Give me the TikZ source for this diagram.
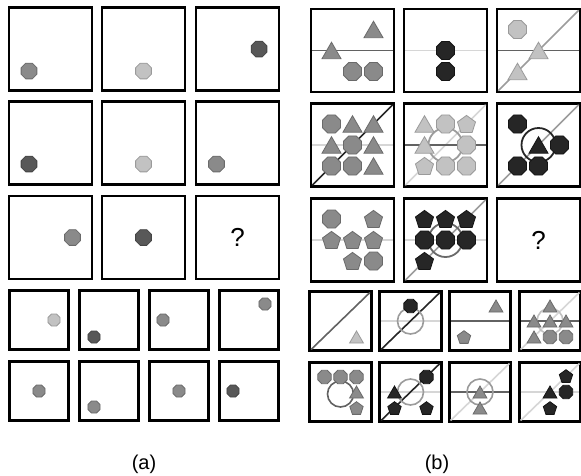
\documentclass[tikz,border=0pt]{standalone}
\usepackage{fontspec}
\setmainfont{Liberation Sans}
\usetikzlibrary{shapes.geometric}

\definecolor{fmid}{HTML}{8A8A8A}
\definecolor{dmid}{HTML}{6A6A6A}
\definecolor{flight}{HTML}{C2C2C2}
\definecolor{dlight}{HTML}{9A9A9A}
\definecolor{fdark}{HTML}{585858}
\definecolor{ddark}{HTML}{444444}
\definecolor{fblack}{HTML}{262626}
\definecolor{dblack}{HTML}{141414}
\definecolor{lnA}{HTML}{D6D6D6}
\definecolor{lnB}{HTML}{9C9C9C}
\definecolor{lnC}{HTML}{626262}
\definecolor{lnD}{HTML}{262626}

\begin{document}
\begin{tikzpicture}[x=1pt,y=-1pt,
		box_style/.style={draw=black,line width=2.6pt,fill=white,inner sep=0pt,minimum size=83pt},
		sbox_style/.style={draw=black,line width=2.6pt,fill=white,inner sep=0pt,minimum width=61.5pt,minimum height=59.5pt},
		abox_style/.style={draw=black,line width=2.6pt,fill=white,inner sep=0pt,minimum size=59.5pt},
		hor_style/.style={line width=1.6pt,shorten >=2.6pt,shorten <=2.6pt},
		diag_style/.style={line width=1.6pt,shorten >=3.7pt,shorten <=3.7pt},
		ring_style/.style={circle,draw,line width=1.8pt,minimum size=34pt,inner sep=0pt},
		sring_style/.style={circle,draw,line width=1.6pt,minimum size=26pt,inner sep=0pt},
		oct_style/.style={regular polygon,regular polygon sides=8,minimum size=19.5pt,inner sep=0pt,line width=0.8pt},
		tri_style/.style={regular polygon,regular polygon sides=3,minimum size=22pt,inner sep=0pt,line width=0.8pt,yshift=-2.7pt},
		pent_style/.style={regular polygon,regular polygon sides=5,minimum size=19pt,inner sep=0pt,line width=0.8pt,yshift=-0.9pt},
		soct_style/.style={oct_style,minimum size=14.5pt},
		stri_style/.style={tri_style,minimum size=16pt,yshift=0.7pt},
		spent_style/.style={pent_style,minimum size=14pt,yshift=0.2pt},
		aoct_style/.style={oct_style,minimum size=17pt},
		asoct_style/.style={oct_style,minimum size=13pt},
		col_mid/.style={fill=fmid,draw=dmid},
		col_light/.style={fill=flight,draw=dlight},
		col_dark/.style={fill=fdark,draw=ddark},
		col_black/.style={fill=fblack,draw=dblack},
		quest_style/.style={font=\fontsize{26}{30}\selectfont}]

		\useasboundingbox (0,0) rectangle (581,475);

		% (a)
		\node[box_style] (a1) at (50.5,49)  {};
		\node[box_style] (a2) at (143.5,49)  {};
		\node[box_style] (a3) at (237.5,49)  {};
		\node[box_style] (a4) at (50.5,143)  {};
		\node[box_style] (a5) at (143.5,143)  {};
		\node[box_style] (a6) at (237.5,143)  {};
		\node[box_style] (a7) at (50.5,237.5)  {};
		\node[box_style] (a8) at (143.5,237.5)  {};
		\node[box_style] (a9) at (237.5,237.5)  {};

		\node[aoct_style,col_mid] (a1s) at (29,71)  {};
		\node[aoct_style,col_light] (a2s) at (143.5,71)  {};
		\node[aoct_style,col_dark] (a3s) at (259,49)  {};
		\node[aoct_style,col_dark] (a4s) at (29,164)  {};
		\node[aoct_style,col_light] (a5s) at (143.5,164)  {};
		\node[aoct_style,col_mid] (a6s) at (216.5,164)  {};
		\node[aoct_style,col_mid] (a7s) at (72.5,237.5)  {};
		\node[aoct_style,col_dark] (a8s) at (143.5,237.5)  {};
		\node[quest_style] (a9q) at (a9)  {?};

		\node[abox_style] (a10) at (39,320)  {};
		\node[abox_style] (a11) at (109,320)  {};
		\node[abox_style] (a12) at (179,320)  {};
		\node[abox_style] (a13) at (249,320)  {};
		\node[abox_style] (a14) at (39,391)  {};
		\node[abox_style] (a15) at (109,391)  {};
		\node[abox_style] (a16) at (179,391)  {};
		\node[abox_style] (a17) at (249,391)  {};

		\node[asoct_style,col_light] (a10s) at (54,320)  {};
		\node[asoct_style,col_dark] (a11s) at (94,337)  {};
		\node[asoct_style,col_mid] (a12s) at (163,320)  {};
		\node[asoct_style,col_mid] (a13s) at (265,304)  {};
		\node[asoct_style,col_mid] (a14s) at (39,391)  {};
		\node[asoct_style,col_mid] (a15s) at (94,407)  {};
		\node[asoct_style,col_mid] (a16s) at (179,391)  {};
		\node[asoct_style,col_dark] (a17s) at (233,391)  {};

		\node (la) at (144,464) {\fontsize{20}{24}\selectfont (a)};

		% (b)
		\begin{scope}[shift={(352.5,50.5)}]
			\node[box_style] (b1) at (0,0)  {};
			\draw[hor_style,lnC]  (b1.west) -- (b1.east);
			\node[tri_style,col_mid] (b1s1) at (21,-21)  {};
			\node[tri_style,col_mid] (b1s2) at (-21,0)  {};
			\node[oct_style,col_mid] (b1s3) at (0,21)  {};
			\node[oct_style,col_mid] (b1s4) at (21,21)  {};
		\end{scope}
		\begin{scope}[shift={(445.5,50.5)}]
			\node[box_style] (b2) at (0,0)  {};
			\draw[hor_style,lnA]  (b2.west) -- (b2.east);
			\node[oct_style,col_black] (b2s1) at (0,0)  {};
			\node[oct_style,col_black] (b2s2) at (0,21)  {};
		\end{scope}
		\begin{scope}[shift={(538.5,50.5)}]
			\node[box_style] (b3) at (0,0)  {};
			\draw[hor_style,lnC]  (b3.west) -- (b3.east);
			\draw[diag_style,lnB]  (b3.south west) -- (b3.north east);
			\node[oct_style,col_light] (b3s1) at (-21,-21)  {};
			\node[tri_style,col_light] (b3s2) at (0,0)  {};
			\node[tri_style,col_light] (b3s3) at (-21,21)  {};
		\end{scope}
		\begin{scope}[shift={(352.5,145)}]
			\node[box_style] (b4) at (0,0)  {};
			\draw[hor_style,lnA]  (b4.west) -- (b4.east);
			\draw[diag_style,lnD]  (b4.south west) -- (b4.north east);
			\node[oct_style,col_mid] (b4s1) at (-21,-21)  {};
			\node[tri_style,col_mid] (b4s2) at (0,-21)  {};
			\node[tri_style,col_mid] (b4s3) at (21,-21)  {};
			\node[tri_style,col_mid] (b4s4) at (-21,0)  {};
			\node[oct_style,col_mid] (b4s5) at (0,0)  {};
			\node[tri_style,col_mid] (b4s6) at (21,0)  {};
			\node[oct_style,col_mid] (b4s7) at (-21,21)  {};
			\node[oct_style,col_mid] (b4s8) at (0,21)  {};
			\node[tri_style,col_mid] (b4s9) at (21,21)  {};
		\end{scope}
		\begin{scope}[shift={(445.5,145)}]
			\node[box_style] (b5) at (0,0)  {};
			\draw[diag_style,lnA]  (b5.south west) -- (b5.north east);
			\draw[hor_style,lnC]  (b5.west) -- (b5.east);
			\node[ring_style,draw=lnB] (b5r) at (0,0)  {};
			\node[tri_style,col_light] (b5s1) at (-21,-21)  {};
			\node[oct_style,col_light] (b5s2) at (0,-21)  {};
			\node[pent_style,col_light] (b5s3) at (21,-21)  {};
			\node[tri_style,col_light] (b5s4) at (-21,0)  {};
			\node[oct_style,col_light] (b5s5) at (21,0)  {};
			\node[pent_style,col_light] (b5s6) at (-21,21)  {};
			\node[oct_style,col_light] (b5s7) at (0,21)  {};
			\node[oct_style,col_light] (b5s8) at (21,21)  {};
		\end{scope}
		\begin{scope}[shift={(538.5,145)}]
			\node[box_style] (b6) at (0,0)  {};
			\draw[diag_style,lnB]  (b6.south west) -- (b6.north east);
			\node[ring_style,draw=fblack] (b6r) at (0,0)  {};
			\node[oct_style,col_black] (b6s1) at (-21,-21)  {};
			\node[tri_style,col_black] (b6s2) at (0,0)  {};
			\node[oct_style,col_black] (b6s3) at (21,0)  {};
			\node[oct_style,col_black] (b6s4) at (-21,21)  {};
			\node[oct_style,col_black] (b6s5) at (0,21)  {};
		\end{scope}
		\begin{scope}[shift={(352.5,240)}]
			\node[box_style] (b7) at (0,0)  {};
			\draw[hor_style,lnA]  (b7.west) -- (b7.east);
			\node[oct_style,col_mid] (b7s1) at (-21,-21)  {};
			\node[pent_style,col_mid] (b7s2) at (21,-21)  {};
			\node[pent_style,col_mid] (b7s3) at (-21,0)  {};
			\node[pent_style,col_mid] (b7s4) at (0,0)  {};
			\node[pent_style,col_mid] (b7s5) at (21,0)  {};
			\node[pent_style,col_mid] (b7s6) at (0,21)  {};
			\node[oct_style,col_mid] (b7s7) at (21,21)  {};
		\end{scope}
		\begin{scope}[shift={(445.5,240)}]
			\node[box_style] (b8) at (0,0)  {};
			\draw[hor_style,lnA]  (b8.west) -- (b8.east);
			\draw[diag_style,lnB]  (b8.south west) -- (b8.north east);
			\node[ring_style,draw=dmid] (b8r) at (0,0)  {};
			\node[pent_style,col_black] (b8s1) at (-21,-21)  {};
			\node[pent_style,col_black] (b8s2) at (0,-21)  {};
			\node[pent_style,col_black] (b8s3) at (21,-21)  {};
			\node[oct_style,col_black] (b8s4) at (-21,0)  {};
			\node[oct_style,col_black] (b8s5) at (0,0)  {};
			\node[oct_style,col_black] (b8s6) at (21,0)  {};
			\node[pent_style,col_black] (b8s7) at (-21,21)  {};
		\end{scope}
		\node[box_style] (b9) at (538.5,240)  {};
		\node[quest_style] (b9q) at (b9)  {?};

		\begin{scope}[shift={(340.5,321)}]
			\node[sbox_style] (b10) at (0,0)  {};
			\draw[diag_style,lnC]  (b10.south west) -- (b10.north east);
			\node[stri_style,col_light] (b10s1) at (16,16)  {};
		\end{scope}
		\begin{scope}[shift={(410.5,321)}]
			\node[sbox_style] (b11) at (0,0)  {};
			\draw[hor_style,lnA]  (b11.west) -- (b11.east);
			\draw[diag_style,lnD]  (b11.south west) -- (b11.north east);
			\node[sring_style,draw=lnB] (b11r) at (0,0)  {};
			\node[soct_style,col_black] (b11s1) at (0,-15)  {};
		\end{scope}
		\begin{scope}[shift={(480,321)}]
			\node[sbox_style] (b12) at (0,0)  {};
			\draw[hor_style,lnC]  (b12.west) -- (b12.east);
			\node[stri_style,col_mid] (b12s1) at (16,-15)  {};
			\node[spent_style,col_mid] (b12s2) at (-16,16)  {};
		\end{scope}
		\begin{scope}[shift={(550,321)}]
			\node[sbox_style] (b13) at (0,0)  {};
			\draw[diag_style,lnA]  (b13.south west) -- (b13.north east);
			\draw[hor_style,lnC]  (b13.west) -- (b13.east);
			\node[sring_style,draw=flight] (b13r) at (0,0)  {};
			\node[stri_style,col_mid] (b13s1) at (0,-15)  {};
			\node[stri_style,col_mid] (b13s2) at (-16,0)  {};
			\node[stri_style,col_mid] (b13s3) at (0,0)  {};
			\node[stri_style,col_mid] (b13s4) at (16,0)  {};
			\node[stri_style,col_mid] (b13s5) at (-16,16)  {};
			\node[soct_style,col_mid] (b13s6) at (0,16)  {};
			\node[soct_style,col_mid] (b13s7) at (16,16)  {};
		\end{scope}

		\begin{scope}[shift={(340.5,392)}]
			\node[sbox_style] (b14) at (0,0)  {};
			\node[sring_style,draw=lnC] (b14r) at (0,2)  {};
			\node[soct_style,col_mid] (b14s1) at (-16,-15)  {};
			\node[soct_style,col_mid] (b14s2) at (0,-15)  {};
			\node[soct_style,col_mid] (b14s3) at (16,-15)  {};
			\node[stri_style,col_mid] (b14s4) at (16,0)  {};
			\node[spent_style,col_mid] (b14s5) at (16,16)  {};
		\end{scope}
		\begin{scope}[shift={(410.5,392)}]
			\node[sbox_style] (b15) at (0,0)  {};
			\draw[hor_style,lnA]  (b15.west) -- (b15.east);
			\draw[diag_style,lnD]  (b15.south west) -- (b15.north east);
			\node[sring_style,draw=lnB] (b15r) at (0,0)  {};
			\node[soct_style,col_black] (b15s1) at (16,-15)  {};
			\node[stri_style,col_black] (b15s2) at (-16,0)  {};
			\node[spent_style,col_black] (b15s3) at (-16,16)  {};
			\node[spent_style,col_black] (b15s4) at (16,16)  {};
		\end{scope}
		\begin{scope}[shift={(480,392)}]
			\node[sbox_style] (b16) at (0,0)  {};
			\draw[diag_style,lnA]  (b16.south west) -- (b16.north east);
			\draw[hor_style,lnC]  (b16.west) -- (b16.east);
			\node[sring_style,draw=dlight] (b16r) at (0,0)  {};
			\node[stri_style,col_mid] (b16s1) at (0,0)  {};
			\node[stri_style,col_mid] (b16s2) at (0,16)  {};
		\end{scope}
		\begin{scope}[shift={(550,392)}]
			\node[sbox_style] (b17) at (0,0)  {};
			\draw[diag_style,lnA]  (b17.south west) -- (b17.north east);
			\draw[hor_style,lnA]  (b17.west) -- (b17.east);
			\node[spent_style,col_black] (b17s1) at (16,-16)  {};
			\node[stri_style,col_black] (b17s2) at (0,0)  {};
			\node[soct_style,col_black] (b17s3) at (16,0)  {};
			\node[spent_style,col_black] (b17s4) at (0,16)  {};
		\end{scope}

		\node (lb) at (437,464) {\fontsize{20}{24}\selectfont (b)};
		\end{tikzpicture}
\end{document}
